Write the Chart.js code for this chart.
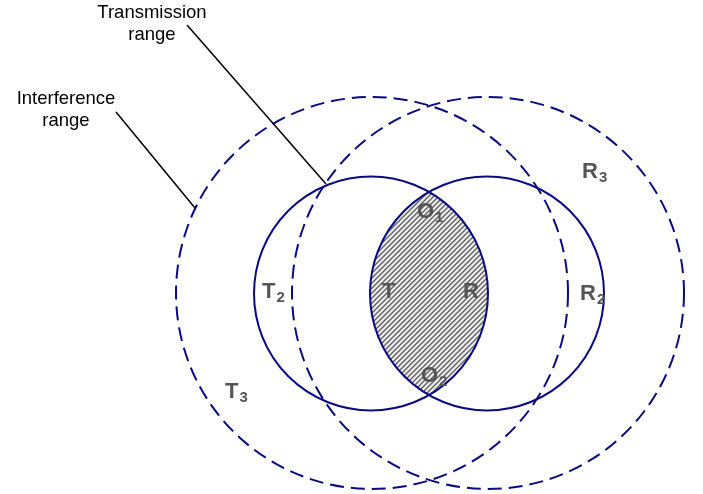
<!DOCTYPE html>
<html>
<head>
<meta charset="utf-8">
<script src="https://cdn.jsdelivr.net/npm/chart.js@4.4.0/dist/chart.umd.min.js"></script>
<style>
	html, body { margin: 0; padding: 0; background: #fff; }
	canvas { display: block; }
</style>
</head>
<body>
<canvas id="rangeChart" width="703" height="494"></canvas>
<script>
// Circles, in plot units (the plot spans 0..703 by 0..494)
const circleX = [371, 487, 372, 488];
const circleY = [293.5, 293.5, 293, 293];
const circleR = [117, 117, 196, 196];
const circleKind = ["transmission", "transmission", "interference", "interference"];

// Node labels
const nodeNames = ["T", "R", "T", "R", "T", "R", "O", "O"];
const nodeSubs = ["", "", "2", "2", "3", "3", "1", "2"];
const nodeX = [382, 463, 262, 580, 225, 582, 417, 421];
const nodeY = [298, 298, 298, 300, 398, 178, 218, 382];

// Callouts with leader lines
const calloutText = [["Transmission", "range"], ["Interference", "range"]];
const calloutX = [152, 66];
const calloutY = [18, 104];
const leaderFromX = [187, 116];
const leaderFromY = [25, 112];
const leaderToX = [326, 195];
const leaderToY = [184, 208];

function hatchPattern(ctx) {
	const size = 5;
	const tile = document.createElement("canvas");
	tile.width = size;
	tile.height = size;
	const t = tile.getContext("2d");
	t.fillStyle = "#ececec";
	t.fillRect(0, 0, size, size);
	t.strokeStyle = "#5e5e5e";
	t.lineWidth = 1.3;
	t.beginPath();
	t.moveTo(0, size); t.lineTo(size, 0);
	t.moveTo(-1, 1); t.lineTo(1, -1);
	t.moveTo(size - 1, size + 1); t.lineTo(size + 1, size - 1);
	t.stroke();
	return ctx.createPattern(tile, "repeat");
}

const diagramPlugin = {
	id: "diagram",
	afterDatasetsDraw(chart) {
		const ctx = chart.ctx;
		const x = chart.scales.x;
		const y = chart.scales.y;
		const px = v => x.getPixelForValue(v);
		const py = v => y.getPixelForValue(v);
		const pr = (cx, r) => px(cx + r) - px(cx);

		// shaded overlap of the two transmission circles
		ctx.save();
		ctx.beginPath();
		ctx.arc(px(circleX[0]), py(circleY[0]), pr(circleX[0], circleR[0]), 0, Math.PI * 2);
		ctx.clip();
		ctx.beginPath();
		ctx.arc(px(circleX[1]), py(circleY[1]), pr(circleX[1], circleR[1]), 0, Math.PI * 2);
		ctx.fillStyle = hatchPattern(ctx);
		ctx.fill();
		ctx.restore();

		// circles
		circleX.forEach((cx, i) => {
			ctx.save();
			ctx.strokeStyle = "#0a0a82";
			ctx.lineWidth = 2;
			if (circleKind[i] === "interference") {
				ctx.setLineDash([14, 7]);
			}
			ctx.beginPath();
			ctx.arc(px(cx), py(circleY[i]), pr(cx, circleR[i]), 0, Math.PI * 2);
			ctx.stroke();
			ctx.restore();
		});

		// leader lines and callout text
		ctx.save();
		ctx.strokeStyle = "#000";
		ctx.lineWidth = 1.5;
		leaderFromX.forEach((fx, i) => {
			ctx.beginPath();
			ctx.moveTo(px(fx), py(leaderFromY[i]));
			ctx.lineTo(px(leaderToX[i]), py(leaderToY[i]));
			ctx.stroke();
		});
		ctx.fillStyle = "#000";
		ctx.font = "18.5px 'Liberation Sans', Arial, sans-serif";
		ctx.textAlign = "center";
		ctx.textBaseline = "alphabetic";
		calloutText.forEach((lines, i) => {
			lines.forEach((line, j) => {
				ctx.fillText(line, px(calloutX[i]), py(calloutY[i]) + j * 22);
			});
		});
		ctx.restore();

		// node labels with subscripts
		ctx.save();
		ctx.fillStyle = "#555555";
		ctx.textAlign = "left";
		ctx.textBaseline = "alphabetic";
		nodeNames.forEach((name, i) => {
			const lx = px(nodeX[i]);
			const ly = py(nodeY[i]);
			ctx.font = "bold 22px 'Liberation Sans', Arial, sans-serif";
			ctx.fillText(name, lx, ly);
			const w = ctx.measureText(name).width;
			if (nodeSubs[i]) {
				ctx.font = "bold 15px 'Liberation Sans', Arial, sans-serif";
				ctx.fillText(nodeSubs[i], lx + w + 1, ly + 4);
			}
		});
		ctx.restore();
	}
};

const ctx = document.getElementById("rangeChart").getContext("2d");
new Chart(ctx, {
	type: "scatter",
	data: {
		datasets: [{
			label: "centres",
			data: circleX.map((cx, i) => ({ x: cx, y: circleY[i] })),
			pointRadius: 0,
			showLine: false
		}]
	},
	options: {
		responsive: false,
		animation: false,
		devicePixelRatio: 1,
		layout: { padding: 0 },
		plugins: {
			legend: { display: false },
			tooltip: { enabled: false }
		},
		scales: {
			x: { type: "linear", min: 0, max: 703, display: false },
			y: { type: "linear", min: 0, max: 494, reverse: true, display: false }
		}
	},
	plugins: [diagramPlugin]
});
</script>
</body>
</html>
